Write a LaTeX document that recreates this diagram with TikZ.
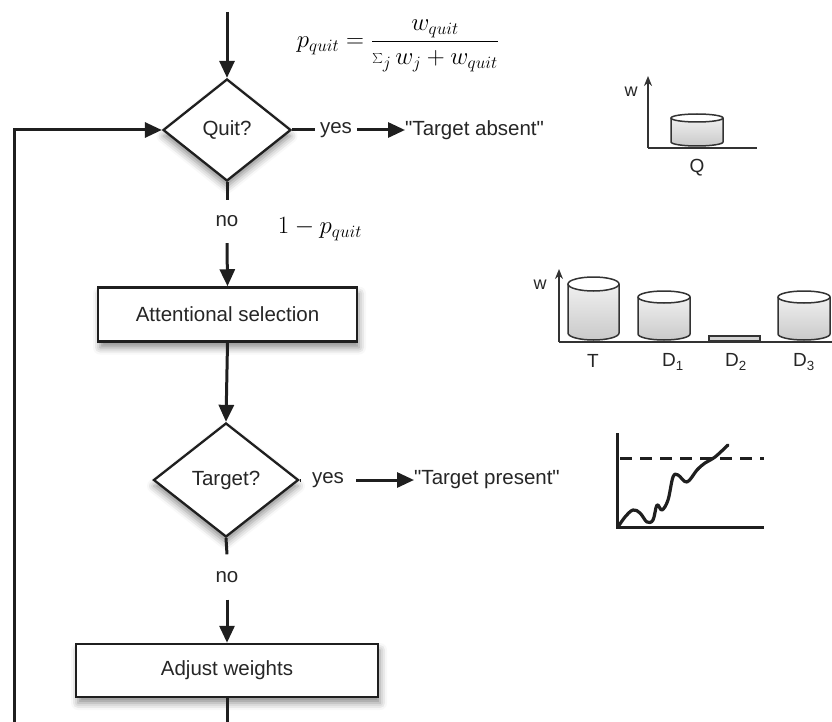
\documentclass[tikz,border=0pt]{standalone}
\usepackage{fontspec}
\usetikzlibrary{arrows.meta,shapes.geometric,shadows.blur}
\newfontfamily\lsans{Liberation Sans}
\newcommand{\wcyl}[5]{%
  \pgfmathsetmacro\cylcx{(#1+#2)/2}%
  \pgfmathsetmacro\cylrx{(#2-#1)/2}%
  \fill[top color=gray!12, bottom color=gray!42] (#1,#3) -- (#1,#4) arc[start angle=180,end angle=0,x radius=\cylrx,y radius=#5] -- (#2,#3) -- cycle;
  \fill[white] (\cylcx,#3) ellipse[x radius=\cylrx,y radius=#5];
  \draw[cylline] (#1,#3) -- (#1,#4) arc[start angle=180,end angle=0,x radius=\cylrx,y radius=#5] -- (#2,#3);
  \draw[cylline] (\cylcx,#3) ellipse[x radius=\cylrx,y radius=#5];
}
\begin{document}
\begin{tikzpicture}[x=1pt,y=-1pt,
  every node/.style={font=\lsans\fontsize{20.5}{24}\selectfont, text=black!85},
  flow/.style={line width=3pt, draw=black!88},
  arr/.style={flow, -{Triangle[length=17pt,width=15pt]}},
  decision/.style={shape=diamond, draw=black!88, line width=2.3pt, fill=white, inner sep=0pt,
    blur shadow={shadow xshift=0pt, shadow yshift=-6pt, shadow blur radius=7pt, shadow opacity=45}},
  process/.style={rectangle, draw=black!88, line width=2.5pt, fill=white, inner sep=0pt,
    blur shadow={shadow xshift=2pt, shadow yshift=-6pt, shadow blur radius=7pt, shadow opacity=45}},
  lbl/.style={inner sep=0pt},
  cylline/.style={line width=1.5pt, draw=black!80},
  axisln/.style={line width=1.8pt, draw=black!80},
  axisarr/.style={axisln, -{Stealth[length=10pt,width=8pt]}},
  small/.style={font=\lsans\fontsize{18}{21}\selectfont, inner sep=0pt}
]
\useasboundingbox (0,0) rectangle (832,722);

% formula
\node[lbl, text=black] (formula) at (398,46) {\fontsize{25}{30}\selectfont$\displaystyle p_{quit}=\frac{w_{quit}}{\sum_j w_j+w_{quit}}$};

% flow nodes
\coordinate (start) at (227,12);
\node[decision, minimum width=128, minimum height=102] (quit) at (227,130) {Quit?};
\node[lbl, inner xsep=5pt] (yes1) at (336,130) {yes};
\node[lbl, anchor=west] (absent) at (405,130) {"Target absent"};
\node[lbl, minimum height=43pt] (no1) at (227,221.5) {no};
\node[lbl, text=black] (oneminus) at (320,229) {\fontsize{26}{30}\selectfont$1-p_{quit}$};
\node[process, minimum width=259, minimum height=54] (attn) at (227.5,314.5) {Attentional selection};
\node[decision, minimum width=145, minimum height=114] (target) at (226,480) {Target?};
\node[lbl] (yes2) at (328,480) {yes};
\node[lbl, anchor=west] (present) at (414,480) {"Target present"};
\node[lbl, minimum height=45pt] (no2) at (227,577) {no};
\node[process, minimum width=302, minimum height=53] (adj) at (227,670.5) {Adjust weights};
\coordinate (loopc) at (14,745);

\draw[arr] (start) -- (quit.north);
\draw[flow] (quit.east) -- (yes1.west);
\draw[arr] (yes1.east) -- (absent.west);
\draw[flow] (quit.south) -- (no1.north);
\draw[arr] (no1.south) -- (attn.north);
\draw[arr] (attn.south) -- (target.north);
\draw[flow, shorten >=11pt] (target.east) -- (yes2.west);
\draw[arr, shorten <=12pt] (yes2.east) -- (present.west);
\draw[flow] (target.south) -- (no2.north);
\draw[arr] (no2.south) -- (adj.north);
\draw[arr] (adj.south) |- (loopc) |- (quit.west);

% chart Q
\draw[axisarr] (648,148) -- (648,76);
\draw[axisln] (648,148) -- (757,148);
\node[small] (w1) at (631,92) {w};
\wcyl{671}{723}{118}{142}{4}
\node[small, font=\lsans\fontsize{19}{22}\selectfont] (qlbl) at (697,168) {Q};

% chart weights
\draw[axisarr] (559,342) -- (559,269);
\draw[axisln] (559,342) -- (832,342);
\node[small] (w2) at (540,285) {w};
\wcyl{568}{619}{284}{333}{7}
\wcyl{638}{690}{297}{334}{6}
\wcyl{778}{830}{297}{334}{6}
\fill[gray!35] (709,336) rectangle (760,341);
\draw[cylline] (709,336) rectangle (760,341);
\node[small, font=\lsans\fontsize{19}{22}\selectfont] (tl) at (593,361) {T};
\node[small, font=\lsans\fontsize{19}{22}\selectfont] (d1) at (673,362) {D\textsubscript{1}};
\node[small, font=\lsans\fontsize{19}{22}\selectfont] (d2) at (736,362) {D\textsubscript{2}};
\node[small, font=\lsans\fontsize{19}{22}\selectfont] (d3) at (804,362) {D\textsubscript{3}};

% chart accumulation
\draw[line width=3pt, black!88] (617,433) -- (617,527) -- (764,527);
\draw[line width=3pt, black!88, dash pattern=on 12pt off 8pt] (620,458) -- (764,458);
\draw[line width=3.2pt, black!88, line cap=round, line join=round] plot[smooth, tension=0.6] coordinates {(618,527) (625,517) (633,510) (640,513) (647,522) (653,520) (657,505) (662,510) (668,500) (673,477) (678,475) (687,482) (697,470) (705,463) (715,457) (728,445)};
\end{tikzpicture}
\end{document}
